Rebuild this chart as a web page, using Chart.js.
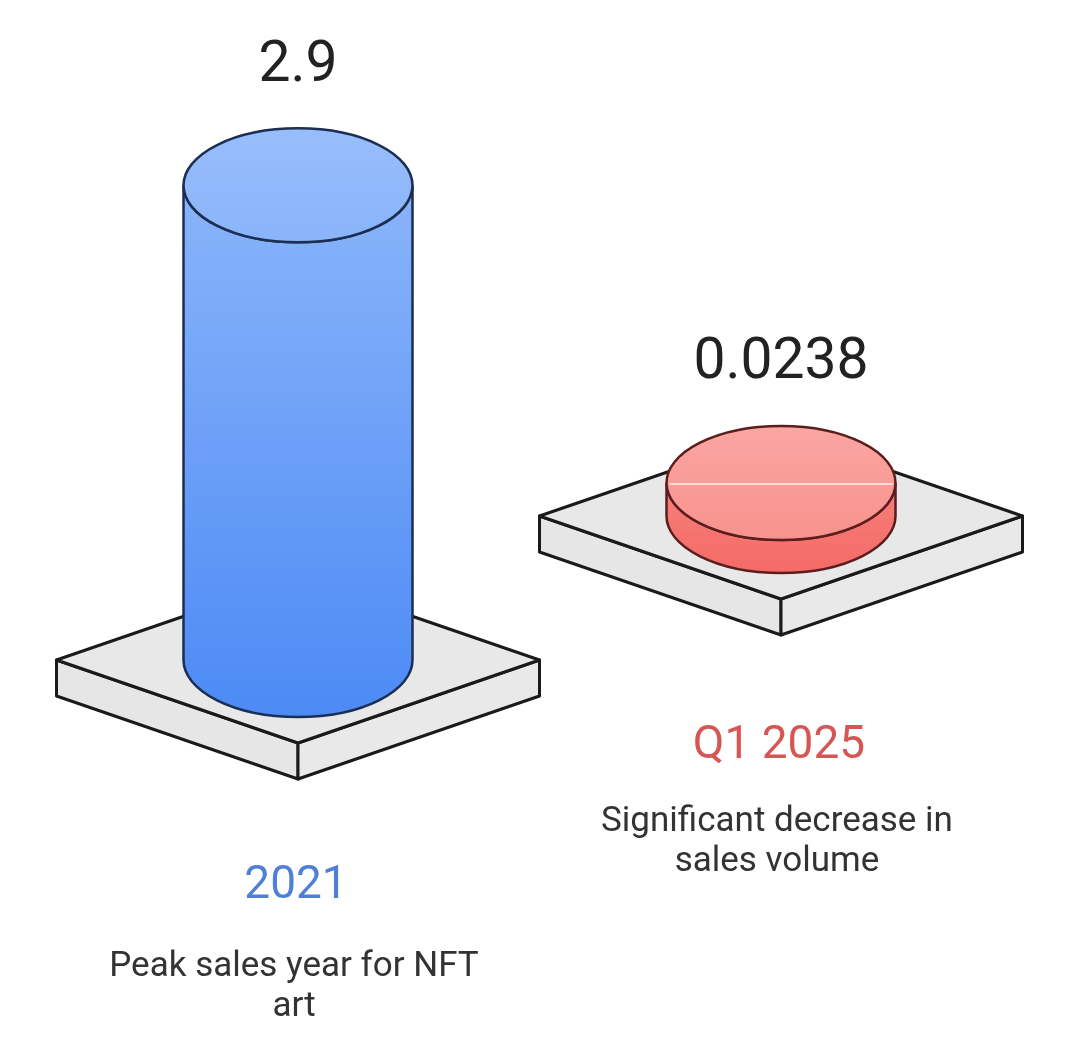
<!DOCTYPE html>
<html>
<head>
<meta charset="utf-8">
<script src="https://cdn.jsdelivr.net/npm/chart.js@4"></script>
<style>
  html, body { margin: 0; padding: 0; background: #fff; }
  #wrap { width: 1080px; height: 1040px; }
</style>
</head>
<body>
<div id="wrap"><canvas id="nftChart" width="1080" height="1040"></canvas></div>
<script>
// data
const categories = ['2021', 'Q1 2025'];
const salesValues = [2.9, 0.0238];
const valueLabels = ['2.9', '0.0238'];
const descriptions = [
    ['Peak sales year for NFT', 'art'],
    ['Significant decrease in', 'sales volume']
];

// look of each cylinder
const styles = [
    { top: ['#97befc', '#8ab4fa'], body: ['#8ab4fa', '#4c8af5'], stroke: '#1c2e52', label: '#4f7fd6', labelY: 886, descY: 967 },
    { top: ['#faa6a2', '#f8928d'], body: ['#f7807a', '#f46a66'], stroke: '#5a1e1e', label: '#d65656', labelY: 746, descY: 822 }
];

const RY = 57;          // ellipse half height
const PLAT_W = 241.5;   // platform half width
const PLAT_D = 83;      // platform half depth
const PLAT_T = 36;      // platform thickness

function drawPlatform(ctx, cx, cy) {
    ctx.save();
    ctx.lineJoin = 'round';
    ctx.lineWidth = 3;
    ctx.strokeStyle = '#1a1a1a';
    // left side
    ctx.beginPath();
    ctx.moveTo(cx - PLAT_W, cy);
    ctx.lineTo(cx, cy + PLAT_D);
    ctx.lineTo(cx, cy + PLAT_D + PLAT_T);
    ctx.lineTo(cx - PLAT_W, cy + PLAT_T);
    ctx.closePath();
    ctx.fillStyle = '#e6e6e6';
    ctx.fill();
    ctx.stroke();
    // right side
    ctx.beginPath();
    ctx.moveTo(cx + PLAT_W, cy);
    ctx.lineTo(cx, cy + PLAT_D);
    ctx.lineTo(cx, cy + PLAT_D + PLAT_T);
    ctx.lineTo(cx + PLAT_W, cy + PLAT_T);
    ctx.closePath();
    ctx.fillStyle = '#e9e9e9';
    ctx.fill();
    ctx.stroke();
    // top face
    ctx.beginPath();
    ctx.moveTo(cx - PLAT_W, cy);
    ctx.lineTo(cx, cy - PLAT_D);
    ctx.lineTo(cx + PLAT_W, cy);
    ctx.lineTo(cx, cy + PLAT_D);
    ctx.closePath();
    ctx.fillStyle = '#e8e8e8';
    ctx.fill();
    ctx.stroke();
    ctx.restore();
}

function drawCylinder(ctx, bar, st, crack) {
    const cx = bar.x, rx = bar.width / 2;
    const top = bar.y, base = bar.base;
    ctx.save();
    ctx.lineWidth = 2.5;
    ctx.strokeStyle = st.stroke;

    const g = ctx.createLinearGradient(0, top, 0, base + RY);
    g.addColorStop(0, st.body[0]);
    g.addColorStop(1, st.body[1]);
    ctx.beginPath();
    ctx.moveTo(cx - rx, top);
    ctx.lineTo(cx - rx, base);
    ctx.ellipse(cx, base, rx, RY, 0, Math.PI, 0, true);
    ctx.lineTo(cx + rx, top);
    ctx.ellipse(cx, top, rx, RY, 0, 0, Math.PI, false);
    ctx.closePath();
    ctx.fillStyle = g;
    ctx.fill();
    ctx.stroke();

    const gt = ctx.createLinearGradient(0, top - RY, 0, top + RY);
    gt.addColorStop(0, st.top[0]);
    gt.addColorStop(1, st.top[1]);
    ctx.beginPath();
    ctx.ellipse(cx, top, rx, RY, 0, 0, Math.PI * 2);
    ctx.fillStyle = gt;
    ctx.fill();
    ctx.stroke();

    if (crack) {
        ctx.beginPath();
        ctx.moveTo(cx - rx + 3, top + 1);
        ctx.lineTo(cx + rx - 3, top + 1);
        ctx.lineWidth = 1.5;
        ctx.strokeStyle = '#fff4ee';
        ctx.stroke();
    }
    ctx.restore();
}

const cylinderPlugin = {
    id: 'cylinders',
    afterDatasetsDraw(chart) {
        const ctx = chart.ctx;
        chart.data.datasets.forEach((ds, di) => {
            const meta = chart.getDatasetMeta(di);
            meta.data.forEach((bar, i) => {
                if (ds.data[i] == null) return;
                const st = styles[i];
                drawPlatform(ctx, bar.x, bar.base);
                drawCylinder(ctx, bar, st, i === 1);

                ctx.save();
                ctx.textAlign = 'center';
                ctx.textBaseline = 'middle';
                ctx.fillStyle = '#222';
                ctx.font = '57px Roboto';
                ctx.fillText(valueLabels[i], bar.x, bar.y - RY - 62);

                ctx.fillStyle = st.label;
                ctx.font = '46px Roboto';
                ctx.fillText(categories[i], bar.x - 2, st.labelY);

                ctx.fillStyle = '#333';
                ctx.font = '35px Roboto';
                descriptions[i].forEach((line, k) => {
                    ctx.fillText(line, bar.x - 4, st.descY + k * 40);
                });
                ctx.restore();
            });
        });
    }
};

const ctx = document.getElementById('nftChart').getContext('2d');

new Chart(ctx, {
    type: 'bar',
    data: {
        labels: categories,
        datasets: [
            {
                label: categories[0],
                data: [salesValues[0], null],
                yAxisID: 'y',
                backgroundColor: 'rgba(0,0,0,0)',
                barThickness: 229,
                grouped: false
            },
            {
                label: categories[1],
                data: [null, salesValues[1]],
                yAxisID: 'y2',
                backgroundColor: 'rgba(0,0,0,0)',
                barThickness: 229,
                minBarLength: 33,
                grouped: false
            }
        ]
    },
    options: {
        responsive: false,
        animation: false,
        events: [],
        layout: { padding: { left: 56.5, right: 57.5, top: 169, bottom: 380 } },
        plugins: { legend: { display: false }, tooltip: { enabled: false } },
        scales: {
            x: { display: false },
            y: { display: false, min: 0, max: 3 },
            y2: { display: false, min: -0.88, max: 2.12 }
        }
    },
    plugins: [cylinderPlugin]
});
</script>
</body>
</html>
